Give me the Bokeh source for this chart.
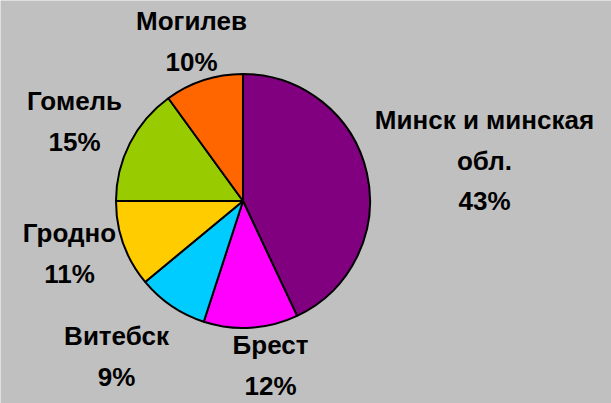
import numpy as np
from bokeh.plotting import figure
from bokeh.models import Range1d, ColumnDataSource
from bokeh.core.properties import value
from bokeh.embed import file_html
from bokeh.resources import INLINE

# Data (clockwise from 12 o'clock)
regions = ["Минск и минская\nобл.", "Брест", "Витебск", "Гродно", "Гомель", "Могилев"]
shares = [43, 12, 9, 11, 15, 10]
colors = ["#800080", "#FF00FF", "#00CCFF", "#FFCC00", "#99CC00", "#FF6600"]

W, H = 611, 403
p = figure(width=W, height=H, output_backend="svg", toolbar_location=None,
           x_range=Range1d(0, W), y_range=Range1d(0, H), min_border=0)
p.axis.visible = False
p.grid.visible = False
p.outline_line_color = None
p.background_fill_color = "#C0C0C0"
p.border_fill_color = "#C0C0C0"

total = float(sum(shares))
frac = np.array(shares) / total
cum = np.concatenate([[0], np.cumsum(frac)])
start = np.pi / 2 - cum[1:] * 2 * np.pi
end = np.pi / 2 - cum[:-1] * 2 * np.pi

cx, cy, r = 242.5, H - 200.5, 127
src = ColumnDataSource(dict(start=start, end=end, color=colors))
p.wedge(x=cx, y=cy, radius=r, start_angle="start", end_angle="end",
        fill_color="color", line_color="black", line_width=2, source=src)

# label block centres (layout, pixel coordinates from top)
lab_x = [484, 270, 116, 69, 74, 191]
lab_y = [160, 365, 356, 253, 121, 41]
texts = [f"{n}\n{s}%" for n, s in zip(regions, shares)]
lsrc = ColumnDataSource(dict(x=lab_x, y=[H - v for v in lab_y], t=texts))
p.text(x="x", y="y", text="t", source=lsrc, text_align="center",
       text_baseline="middle", text_font=value("Liberation Sans"),
       text_font_style="bold", text_font_size="26px", text_line_height=1.35,
       text_color="black")

open("out.html", "w").write(file_html(p, INLINE))
